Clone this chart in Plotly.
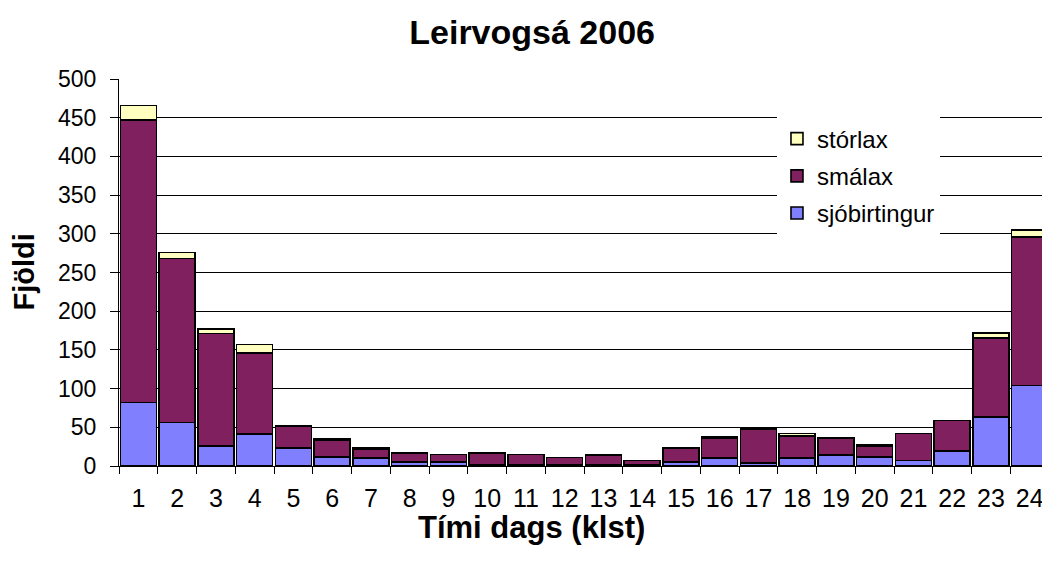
import plotly.graph_objects as go

hours = [str(h) for h in range(1, 25)]
sjobirtingur = [82, 56, 26, 41, 23, 12, 10, 5, 5, 1, 2, 1, 1, 1, 5, 10, 4, 10, 14, 12, 7, 19, 63, 104]
smalax = [365, 212, 145, 105, 29, 21, 12, 11, 10, 16, 13, 10, 13, 6, 18, 26, 43, 29, 22, 14, 35, 40, 102, 192]
storlax = [19, 8, 6, 11, 0, 2, 1, 1, 0, 0, 0, 0, 0, 0, 0, 2, 2, 3, 0, 2, 0, 0, 7, 9]

series = [
    ("sjóbirtingur", sjobirtingur, "#8080FF", 3),
    ("smálax", smalax, "#80205F", 2),
    ("stórlax", storlax, "#FFFFC0", 1),
]

fig = go.Figure()
for name, vals, col, rank in series:
    fig.add_trace(go.Bar(
        x=hours, y=vals, name=name, legendgroup=name, legendrank=rank,
        marker=dict(color=col, line=dict(color="black", width=1.6)),
    ))

font = "Liberation Sans, Arial, sans-serif"
fig.update_layout(
    barmode="stack",
    bargap=0.07,
    width=1042, height=562,
    margin=dict(l=111, r=1, t=71, b=104),
    paper_bgcolor="white", plot_bgcolor="white",
    font=dict(family=font, size=24, color="black"),
    title=dict(text="<b>Leirvogsá 2006</b>", x=0.503, xanchor="center",
               y=1 - 24 / 562, yanchor="middle", yref="container",
               font=dict(size=34, family=font)),
    xaxis=dict(
        showline=True, linecolor="black", linewidth=1,
        ticks="outside", ticklen=7, tickcolor="black", tickson="boundaries",
        tickfont=dict(size=25), ticklabelstandoff=10,
        showgrid=False,
    ),
    yaxis=dict(
        range=[0, 500], dtick=50, tick0=0,
        showline=True, linecolor="black", linewidth=1,
        ticks="outside", ticklen=8, tickcolor="black",
        tickfont=dict(size=23), ticklabelstandoff=9,
        showgrid=True, gridcolor="black", gridwidth=1,
        zeroline=False,
    ),
    legend=dict(
        x=0.7075, y=0.903, xanchor="left", yanchor="top",
        bgcolor="white", borderwidth=0,
        traceorder="grouped", tracegroupgap=3,
        font=dict(size=24),
    ),
    annotations=[
        dict(text="<b>Fjöldi</b>", textangle=-90, xref="paper", yref="paper",
             x=0, y=0.5, xshift=-96, xanchor="center", yanchor="middle",
             showarrow=False, font=dict(size=29)),
        dict(text="<b>Tími dags (klst)</b>", xref="paper", yref="paper",
             x=0.444, y=0, yshift=-61, xanchor="center", yanchor="middle",
             showarrow=False, font=dict(size=31)),
    ],
)

fig.write_html("out.html")
